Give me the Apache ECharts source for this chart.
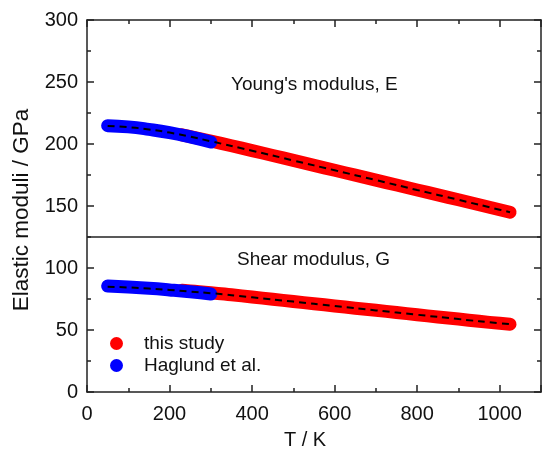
<!DOCTYPE html>
<html>
<head>
<meta charset="utf-8">
<script src="https://cdn.jsdelivr.net/npm/echarts@6/dist/echarts.min.js"></script>
<style>html,body{margin:0;padding:0;background:#fff;}#c{width:544px;height:450px;}</style>
</head>
<body>
<div id="c"></div>
<script>
// ---- data ----
const xTicks = [0, 200, 400, 600, 800, 1000];
const yTicks = [0, 50, 100, 150, 200, 250, 300];

// Young's modulus E
const studyE_T = [230, 250, 300, 350, 400, 450, 500, 550, 600, 650, 700, 750, 800, 850, 900, 950, 1000, 1025];
const studyE_V = [207.4, 206.0, 202.4, 198.6, 194.7, 190.7, 186.8, 182.8, 178.8, 174.9, 170.9, 166.9, 162.9, 159.0, 155.0, 151.0, 147.0, 145.0];
const haglE_T = [50, 100, 150, 200, 250, 300];
const haglE_V = [214.8, 213.8, 211.8, 209.2, 205.7, 201.6];
const fitE_T = [50, 100, 150, 200, 250, 300, 400, 500, 600, 700, 800, 900, 1000, 1025];
const fitE_V = [214.5, 213.6, 211.7, 209.2, 205.9, 202.2, 194.6, 186.7, 178.8, 170.9, 162.9, 155.0, 147.0, 145.0];

// Shear modulus G
const studyG_T = [230, 250, 300, 350, 400, 450, 500, 550, 600, 650, 700, 750, 800, 850, 900, 950, 1000, 1025];
const studyG_V = [82.1, 81.5, 80.1, 78.4, 76.6, 74.8, 73.0, 71.2, 69.4, 67.6, 65.9, 64.1, 62.3, 60.5, 58.8, 57.0, 55.4, 54.7];
const haglG_T = [50, 100, 150, 200, 250, 300];
const haglG_V = [85.4, 84.6, 83.6, 82.3, 80.8, 79.0];
const fitG_T = [50, 100, 150, 200, 250, 300, 400, 500, 600, 700, 800, 900, 1000, 1025];
const fitG_V = [84.9, 84.3, 83.4, 82.3, 81.0, 79.7, 76.4, 72.9, 69.3, 65.8, 62.3, 58.8, 55.4, 54.7];

const dividerValue = 125;
const panelLabels = ["Young's modulus, E", "Shear modulus, G"];
const seriesNames = ["this study", "Haglund et al."];
const axisTitles = ["T / K", "Elastic moduli / GPa"];

// ---- chart ----
const zip = (a, b) => a.map((v, i) => [v, b[i]]);
const FONT = 'Liberation Sans, Arial, sans-serif';
const RED = '#ff0000', BLUE = '#0000ff';

const chart = echarts.init(document.getElementById('c'), null, {renderer: 'canvas'});

function band(name, color, T, V, z) {
  return {
    name, type: 'line', data: zip(T, V), smooth: true, showSymbol: false, symbol: 'none',
    color, lineStyle: {color, width: 13, cap: 'round', join: 'round'}, z, silent: true
  };
}
function fit(T, V) {
  return {
    type: 'line', data: zip(T, V), smooth: true, symbol: 'none', silent: true, z: 10,
    lineStyle: {color: '#000', width: 2, type: [7, 5]}
  };
}

const tickStyle = () => ({inside: true, length: 7, lineStyle: {color: '#222', width: 1.5}});
const minorStyle = () => ({show: true, splitNumber: 2, length: 4, lineStyle: {color: '#222', width: 1.5}});
const lineStyleAx = () => ({show: true, onZero: false, lineStyle: {color: '#222', width: 1.5}});

chart.setOption({
  animation: false,
  backgroundColor: '#fff',
  grid: {left: 87, top: 20, bottom: 58, right: -8, containLabel: false},
  xAxis: [{
    type: 'value', min: 0, max: 1100, interval: 200, position: 'bottom',
    axisLine: lineStyleAx(), axisTick: tickStyle(), minorTick: minorStyle(),
    axisLabel: {fontFamily: FONT, fontSize: 20, color: '#111', margin: 12,
      formatter: v => xTicks.includes(v) ? String(v) : ''},
    splitLine: {show: false}
  }, {
    type: 'value', min: 0, max: 1100, interval: 200, position: 'top',
    axisLine: lineStyleAx(), axisTick: tickStyle(), minorTick: minorStyle(),
    axisLabel: {show: false}, splitLine: {show: false}
  }],
  yAxis: [{
    type: 'value', min: 0, max: 300, interval: 50, position: 'left',
    axisLine: lineStyleAx(), axisTick: tickStyle(), minorTick: minorStyle(),
    axisLabel: {fontFamily: FONT, fontSize: 20, color: '#111', margin: 9,
      formatter: v => yTicks.includes(v) ? String(v) : ''},
    splitLine: {show: false}
  }, {
    type: 'value', min: 0, max: 300, interval: 50, position: 'right',
    axisLine: lineStyleAx(), axisTick: tickStyle(), minorTick: minorStyle(),
    axisLabel: {show: false}, splitLine: {show: false}
  }],
  legend: {
    data: [
      {name: seriesNames[0], icon: 'circle', itemStyle: {color: RED}},
      {name: seriesNames[1], icon: 'circle', itemStyle: {color: BLUE}}
    ],
    orient: 'vertical', left: 105, top: 329, itemWidth: 13, itemHeight: 13, itemGap: 3,
    textStyle: {fontFamily: FONT, fontSize: 19, color: '#111', padding: [0, 0, 0, 16]}
  },
  series: [
    band(seriesNames[0], RED, studyE_T, studyE_V, 2),
    band(seriesNames[0], RED, studyG_T, studyG_V, 2),
    band(seriesNames[1], BLUE, haglE_T, haglE_V, 3),
    band(seriesNames[1], BLUE, haglG_T, haglG_V, 3),
    fit(fitE_T, fitE_V),
    fit(fitG_T, fitG_V),
    {
      type: 'line', data: [], silent: true,
      markLine: {
        silent: true, symbol: 'none', label: {show: false},
        lineStyle: {color: '#222', width: 1.5, type: 'solid'},
        data: [{yAxis: dividerValue}]
      }
    }
  ],
  graphic: [
    {type: 'text', left: 231, top: 75, style: {text: panelLabels[0], font: '19px ' + FONT, fill: '#111'}},
    {type: 'text', left: 237, top: 250, style: {text: panelLabels[1], font: '19px ' + FONT, fill: '#111'}},
    {type: 'text', x: 305, y: 440, style: {text: axisTitles[0], font: '20px ' + FONT, fill: '#111', align: 'center', verticalAlign: 'middle'}},
    {type: 'text', x: 22, y: 210, rotation: Math.PI / 2, style: {text: axisTitles[1], font: '22.5px ' + FONT, fill: '#111', align: 'center', verticalAlign: 'middle'}}
  ]
});
</script>
</body>
</html>
